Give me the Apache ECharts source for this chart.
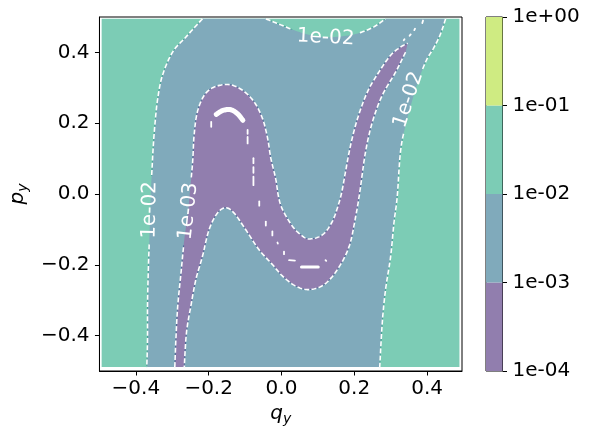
<!DOCTYPE html>
<html>
<head>
<meta charset="utf-8">
<script src="https://cdn.jsdelivr.net/npm/echarts@6/dist/echarts.min.js"></script>
<style>
  html, body { margin: 0; background: #fff; }
  #chart { width: 592px; height: 439px; }
</style>
</head>
<body>
<div id="chart"></div>
<script>
  // colour levels of the filled contours
  const levelTicks = ['1e-04', '1e-03', '1e-02', '1e-01', '1e+00'];
  const levelColors = ['#917eae', '#80aabb', '#7cccb5', '#cfeb82'];
  const xTicks = [-0.4, -0.2, 0, 0.2, 0.4];
  const yTicks = [-0.4, -0.2, 0, 0.2, 0.4];

  // extent of the sampled grid [q_y, p_y]
  const dataBox = [[-0.494, -0.489], [0.489, 0.495]];

  // 1e-02 contour, left branch (top -> bottom)
  const c2Left = [[-0.217, 0.495], [-0.263, 0.443], [-0.299, 0.401], [-0.327, 0.335], [-0.340, 0.269], [-0.347, 0.204],
    [-0.352, 0.138], [-0.356, 0.063], [-0.359, 0.000], [-0.363, -0.129], [-0.366, -0.222], [-0.368, -0.317],
    [-0.368, -0.410], [-0.370, -0.489]];
  // 1e-02 contour, small cap at the top (left -> right)
  const c2Top = [[-0.043, 0.495], [-0.007, 0.480], [0.039, 0.461], [0.080, 0.449], [0.122, 0.443], [0.162, 0.445],
    [0.204, 0.452], [0.250, 0.470], [0.286, 0.495]];
  // 1e-02 contour, right branch (top -> bottom)
  const c2Right = [[0.451, 0.495], [0.437, 0.452], [0.419, 0.414], [0.396, 0.373], [0.369, 0.298], [0.341, 0.194],
    [0.327, 0.119], [0.318, -0.008], [0.309, -0.082], [0.300, -0.176], [0.286, -0.270], [0.277, -0.363], [0.270, -0.489]];
  // 1e-03 contour, one side of the S band (bottom-left -> upper-right tip)
  const c3Outer = [[-0.293, -0.489], [-0.290, -0.410], [-0.285, -0.317], [-0.276, -0.223], [-0.267, -0.129], [-0.258, -0.063],
    [-0.251, 0.012], [-0.244, 0.091], [-0.240, 0.166], [-0.231, 0.232], [-0.212, 0.279], [-0.185, 0.302], [-0.144, 0.309],
    [-0.107, 0.293], [-0.075, 0.260], [-0.052, 0.213], [-0.038, 0.157], [-0.029, 0.100], [-0.016, 0.044], [-0.008, -0.008],
    [0.003, -0.044], [0.030, -0.091], [0.053, -0.115], [0.076, -0.127], [0.113, -0.115], [0.140, -0.077], [0.158, -0.025],
    [0.167, 0.012], [0.176, 0.063], [0.190, 0.138], [0.209, 0.213], [0.236, 0.288], [0.268, 0.345], [0.300, 0.392],
    [0.327, 0.415], [0.347, 0.426]];
  // 1e-03 contour, other side of the S band (tip -> bottom)
  const c3Inner = [[0.341, 0.401], [0.314, 0.345], [0.277, 0.279], [0.250, 0.204], [0.231, 0.119], [0.215, 0.004],
    [0.204, -0.063], [0.186, -0.148], [0.154, -0.213], [0.117, -0.256], [0.076, -0.270], [0.039, -0.260], [0.003, -0.232],
    [-0.025, -0.199], [-0.062, -0.157], [-0.098, -0.101], [-0.130, -0.054], [-0.153, -0.039], [-0.176, -0.054],
    [-0.199, -0.101], [-0.217, -0.176], [-0.235, -0.241], [-0.249, -0.317], [-0.261, -0.392], [-0.267, -0.489]];

  // unfilled (< 1e-04) specks inside the band
  const holeArc = [[-0.179, 0.225], [-0.161, 0.236], [-0.139, 0.238], [-0.120, 0.226], [-0.106, 0.208]];
  const holeBar = [[0.055, -0.206], [0.101, -0.206]];
  const holeSpecks = [
    [[-0.193, 0.204], [-0.193, 0.190]],
    [[-0.093, 0.181], [-0.093, 0.170]], [[-0.093, 0.161], [-0.093, 0.143]],
    [[-0.077, 0.101], [-0.077, 0.087]], [[-0.077, 0.076], [-0.077, 0.060]], [[-0.077, 0.049], [-0.077, 0.025]],
    [[-0.061, -0.021], [-0.061, -0.033]],
    [[-0.043, -0.078], [-0.043, -0.089]],
    [[-0.025, -0.106], [-0.025, -0.117]],
    [[-0.011, -0.137], [-0.010, -0.140]],
    [[0.007, -0.163], [0.007, -0.170]],
    [[0.021, -0.187], [0.037, -0.188]],
    [[0.121, -0.187], [0.123, -0.189]],
    [[0.336, 0.434], [0.338, 0.437]], [[0.352, 0.447], [0.355, 0.451]], [[0.365, 0.463], [0.367, 0.467]],
    [[0.387, 0.483], [0.389, 0.490]]
  ];

  // inline contour labels
  const labelText = ['1e-02', '1e-03', '1e-02', '1e-02'];
  const labelPos = [[-0.3615, -0.045], [-0.2557, -0.0485], [0.1215, 0.4417], [0.349, 0.2665]];
  const labelAngle = [89, 84, -3, 72];

  const FONT = '"DejaVu Sans", sans-serif';
  const fmtTick = (v) => (v < 0 ? '\u2212' + (-v).toFixed(1) : v.toFixed(1));

  // smooth curve through the read points (pixel space)
  const spline = (pts, seg = 8) => {
    if (pts.length < 3) return pts.slice();
    const out = [];
    for (let i = 0; i < pts.length - 1; i++) {
      const p0 = pts[i - 1] || pts[i], p1 = pts[i], p2 = pts[i + 1], p3 = pts[i + 2] || pts[i + 1];
      for (let t = 0; t < seg; t++) {
        const s = t / seg, s2 = s * s, s3 = s2 * s;
        const f = (k) => 0.5 * (2 * p1[k] + (-p0[k] + p2[k]) * s + (2 * p0[k] - 5 * p1[k] + 4 * p2[k] - p3[k]) * s2
          + (-p0[k] + 3 * p1[k] - 3 * p2[k] + p3[k]) * s3);
        out.push([f(0), f(1)]);
      }
    }
    out.push(pts[pts.length - 1]);
    return out;
  };

  const renderContours = (params, api) => {
    const px = (arr) => arr.map((p) => api.coord(p));
    const curve = (arr) => spline(px(arr));
    const rev = (arr) => arr.slice().reverse();
    const children = [];

    // filled bands
    const b0 = api.coord(dataBox[0]), b1 = api.coord(dataBox[1]);
    children.push({
      type: 'rect', shape: { x: b0[0], y: b1[1], width: b1[0] - b0[0], height: b0[1] - b1[1] },
      style: { fill: levelColors[2] }
    });
    children.push({
      type: 'polygon',
      shape: { points: [].concat(curve(c2Left), curve(rev(c2Right)), curve(rev(c2Top))) },
      style: { fill: levelColors[1] }
    });
    children.push({
      type: 'polygon',
      shape: { points: [].concat(curve(c3Outer), curve(c3Inner)) },
      style: { fill: levelColors[0] }
    });

    // white specks
    children.push({ type: 'polyline', shape: { points: curve(holeArc) },
      style: { stroke: '#fff', lineWidth: 5, lineCap: 'round', lineJoin: 'round', fill: null } });
    children.push({ type: 'polyline', shape: { points: px(holeBar) },
      style: { stroke: '#fff', lineWidth: 3, lineCap: 'round', fill: null } });
    holeSpecks.forEach((s) => {
      children.push({ type: 'polyline', shape: { points: px(s) },
        style: { stroke: '#fff', lineWidth: 1.8, lineCap: 'round', fill: null } });
    });

    // contour lines, broken where a label sits
    const boxes = labelPos.map((p, i) => {
      const c = api.coord(p), a = labelAngle[i] * Math.PI / 180;
      return { c, ux: Math.cos(a), uy: -Math.sin(a), hw: 33, hh: 10 };
    });
    const hidden = (q) => boxes.some((b) => {
      const dx = q[0] - b.c[0], dy = q[1] - b.c[1];
      const along = dx * b.ux + dy * b.uy, across = -dx * b.uy + dy * b.ux;
      return Math.abs(along) < b.hw && Math.abs(across) < b.hh;
    });
    const pieces = (pts) => {
      const res = []; let cur = [];
      pts.forEach((q) => {
        if (hidden(q)) { if (cur.length > 1) res.push(cur); cur = []; } else cur.push(q);
      });
      if (cur.length > 1) res.push(cur);
      return res;
    };
    const lines = [
      { pts: c2Left, under: '#45a596' }, { pts: c2Top, under: '#45a596' }, { pts: c2Right, under: '#45a596' },
      { pts: c3Outer, under: '#4e6a98' }, { pts: c3Inner, under: '#4e6a98' }
    ];
    lines.forEach((l) => {
      pieces(spline(px(l.pts), 16)).forEach((seg) => {
        children.push({ type: 'polyline', shape: { points: seg },
          style: { stroke: l.under, lineWidth: 1, fill: null } });
        children.push({ type: 'polyline', shape: { points: seg },
          style: { stroke: '#fff', lineWidth: 1.6, lineDash: [5, 2.2], fill: null } });
      });
    });

    labelText.forEach((t, i) => {
      const c = api.coord(labelPos[i]);
      children.push({
        type: 'text', x: c[0], y: c[1], rotation: labelAngle[i] * Math.PI / 180,
        style: { text: t, fill: '#fff', font: '20px ' + FONT, align: 'center', verticalAlign: 'middle' }
      });
    });
    return { type: 'group', children };
  };

  const chart = echarts.init(document.getElementById('chart'));
  const option = {
    animation: false,
    grid: [
      { left: 99, top: 17, width: 363, height: 354, show: true, borderColor: '#000', borderWidth: 1 },
      { left: 486, top: 17, width: 16.5, height: 354, show: true, borderColor: '#000', borderWidth: 1 }
    ],
    xAxis: [
      {
        type: 'value', gridIndex: 0, min: -0.5, max: 0.496,
        name: '{i|q}{s|y}', nameLocation: 'middle', nameGap: 30,
        nameTextStyle: {
          rich: {
            i: { fontFamily: FONT, fontStyle: 'italic', fontSize: 20, color: '#000' },
            s: { fontFamily: FONT, fontStyle: 'italic', fontSize: 14, color: '#000', padding: [10, 0, 0, 0] }
          }
        },
        splitLine: { show: false },
        axisLine: { onZero: false, lineStyle: { color: '#000', width: 1 } },
        axisTick: { customValues: xTicks, length: 4.5, lineStyle: { color: '#000' } },
        axisLabel: { customValues: xTicks, formatter: fmtTick, fontFamily: FONT, fontSize: 20, color: '#000', margin: 8 }
      },
      { type: 'category', gridIndex: 1, data: ['bar'], show: false }
    ],
    yAxis: [
      {
        type: 'value', gridIndex: 0, min: -0.5, max: 0.5,
        name: '{i|p}{s|y}', nameLocation: 'middle', nameGap: 62,
        nameTextStyle: {
          rich: {
            i: { fontFamily: FONT, fontStyle: 'italic', fontSize: 20, color: '#000' },
            s: { fontFamily: FONT, fontStyle: 'italic', fontSize: 14, color: '#000', padding: [10, 0, 0, 0] }
          }
        },
        splitLine: { show: false },
        axisLine: { onZero: false, lineStyle: { color: '#000', width: 1 } },
        axisTick: { customValues: yTicks, length: 4.5, lineStyle: { color: '#000' } },
        axisLabel: { customValues: yTicks, formatter: fmtTick, fontFamily: FONT, fontSize: 20, color: '#000', margin: 10 }
      },
      {
        type: 'value', gridIndex: 1, min: 0, max: 4, interval: 1, position: 'right',
        splitLine: { show: false },
        axisLine: { show: false },
        axisTick: { show: true, length: 4.5, lineStyle: { color: '#000' } },
        axisLabel: { formatter: (v) => levelTicks[v], fontFamily: FONT, fontSize: 20, color: '#000', margin: 10 }
      }
    ],
    series: [
      {
        type: 'custom', xAxisIndex: 0, yAxisIndex: 0, silent: true,
        renderItem: renderContours, data: [[0, 0]], clip: false
      },
      ...levelColors.map((c) => ({
        type: 'bar', xAxisIndex: 1, yAxisIndex: 1, stack: 'cb', barWidth: '100%', silent: true,
        itemStyle: { color: c }, data: [1]
      }))
    ]
  };
  chart.setOption(option);
</script>
</body>
</html>
